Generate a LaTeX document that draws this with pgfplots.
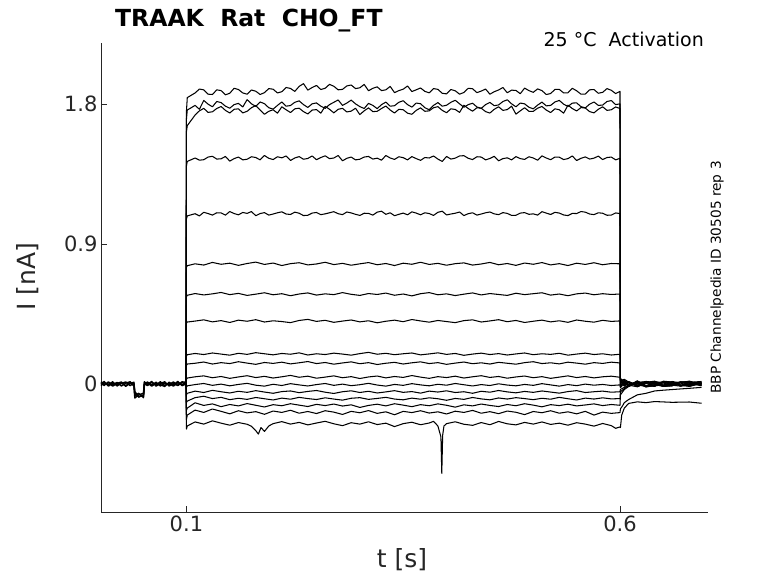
\documentclass[border=0pt]{standalone}
\usepackage{pgfplots}
\pgfplotsset{compat=1.18}
\usepackage{fontspec}
\setmainfont{DejaVu Sans}
\definecolor{txt}{HTML}{262626}
\begin{document}
\begin{tikzpicture}
\path[use as bounding box] (0pt,0pt) rectangle (778pt,583pt);
\begin{axis}[
  at={(101pt,70.5pt)}, anchor=south west,
  scale only axis, width=607pt, height=469.5pt,
  xmin=0.0015, xmax=0.7015, ymin=-0.826, ymax=2.191,
  axis x line=bottom, axis y line=left,
  axis line style={-, txt, line width=0.5pt},
  tick align=inside, major tick length=6pt,
  tick style={txt, line width=0.5pt},
  xtick={0.1,0.6}, ytick={0,0.9,1.8},
  xticklabels={0.1,0.6}, yticklabels={0,0.9,1.8},
  ticklabel style={font=\fontsize{21}{24}\selectfont, text=txt},
  clip=false,
  cycle list={{black, mark=none}},
  every axis plot/.append style={line width=1.05pt, line join=round},
]
% pre-step baseline (all sweeps overlap here)
\addplot+[line width=1.4pt] coordinates {(0.0015,0.008)(0.005,-0.01)(0.01,0.013)(0.015,-0.005)(0.02,0.01)(0.025,-0.013)(0.03,0.005)(0.035,0.014)(0.0395,-0.006)(0.0405,-0.06)(0.045,-0.085)(0.0505,-0.07)(0.0515,0.008)(0.055,-0.011)(0.06,0.01)(0.065,-0.006)(0.07,0.014)(0.075,-0.01)(0.08,0.005)(0.085,-0.014)(0.09,0.008)(0.095,-0.005)(0.0995,0.006)};
\addplot+[line width=1.4pt] coordinates {(0.0015,-0.011)(0.005,0.008)(0.01,-0.006)(0.015,0.014)(0.02,-0.013)(0.025,0.006)(0.03,-0.01)(0.035,0.003)(0.0395,0.011)(0.0405,-0.075)(0.045,-0.06)(0.0505,-0.088)(0.0515,-0.01)(0.055,0.013)(0.06,-0.008)(0.065,0.011)(0.07,-0.013)(0.075,0.006)(0.08,-0.005)(0.085,0.013)(0.09,-0.011)(0.095,0.01)(0.0995,-0.005)};
\addplot+[line width=1.4pt] coordinates {(0.0015,0.014)(0.005,-0.003)(0.01,0.008)(0.015,-0.014)(0.02,0.003)(0.025,0.013)(0.03,-0.016)(0.035,0.008)(0.0395,-0.013)(0.0405,-0.09)(0.045,-0.07)(0.0505,-0.06)(0.0515,0.014)(0.055,-0.003)(0.06,0.016)(0.065,-0.014)(0.07,0.003)(0.075,0.014)(0.08,-0.013)(0.085,0.002)(0.09,-0.008)(0.095,0.014)(0.0995,0.01)};
\addplot+[line width=1.4pt] coordinates {(0.0015,-0.003)(0.005,0.016)(0.01,-0.014)(0.015,0.006)(0.02,-0.006)(0.025,0.003)(0.03,0.013)(0.035,-0.011)(0.0395,0.005)(0.0405,-0.05)(0.045,-0.08)(0.0505,-0.075)(0.0515,-0.003)(0.055,0.008)(0.06,-0.014)(0.065,0.005)(0.07,-0.005)(0.075,-0.016)(0.08,0.011)(0.085,-0.006)(0.09,0.016)(0.095,-0.011)(0.0995,0.0)};
% A
\addplot coordinates {(0.0995,0.004)(0.1,1.75)(0.101,1.84)(0.11,1.87)(0.115,1.895)(0.12,1.89)(0.125,1.862)(0.13,1.86)(0.135,1.89)(0.14,1.885)(0.145,1.858)(0.15,1.868)(0.155,1.9)(0.16,1.892)(0.165,1.87)(0.17,1.862)(0.175,1.889)(0.18,1.881)(0.185,1.86)(0.19,1.872)(0.195,1.898)(0.2,1.894)(0.205,1.87)(0.21,1.878)(0.215,1.905)(0.22,1.899)(0.225,1.88)(0.23,1.912)(0.235,1.93)(0.24,1.888)(0.245,1.905)(0.25,1.918)(0.255,1.892)(0.26,1.9)(0.265,1.925)(0.27,1.913)(0.275,1.89)(0.28,1.893)(0.285,1.915)(0.29,1.921)(0.295,1.898)(0.3,1.903)(0.305,1.925)(0.31,1.884)(0.315,1.9)(0.32,1.909)(0.325,1.885)(0.33,1.89)(0.335,1.912)(0.34,1.872)(0.345,1.885)(0.35,1.894)(0.355,1.915)(0.36,1.879)(0.365,1.89)(0.37,1.902)(0.375,1.88)(0.38,1.871)(0.385,1.898)(0.39,1.893)(0.395,1.868)(0.4,1.864)(0.405,1.892)(0.41,1.884)(0.415,1.862)(0.42,1.873)(0.425,1.9)(0.43,1.897)(0.435,1.872)(0.44,1.882)(0.445,1.895)(0.45,1.862)(0.455,1.878)(0.46,1.889)(0.465,1.905)(0.47,1.871)(0.475,1.888)(0.48,1.886)(0.485,1.865)(0.49,1.901)(0.495,1.885)(0.5,1.874)(0.505,1.896)(0.51,1.885)(0.515,1.86)(0.52,1.866)(0.525,1.893)(0.53,1.893)(0.535,1.87)(0.54,1.871)(0.545,1.9)(0.55,1.884)(0.555,1.862)(0.56,1.863)(0.565,1.89)(0.57,1.892)(0.575,1.868)(0.58,1.874)(0.585,1.898)(0.59,1.887)(0.595,1.866)(0.6,1.88)(0.6005,0.035)(0.605,0.015)(0.61,-0.01)(0.62,0.02)(0.63,-0.012)(0.64,-0.015)(0.65,0.018)(0.66,0.012)(0.67,-0.01)(0.68,-0.008)(0.694,0.012)};
% B
\addplot coordinates {(0.0995,-0.003)(0.1,1.70)(0.101,1.76)(0.11,1.79)(0.115,1.765)(0.12,1.822)(0.125,1.798)(0.13,1.781)(0.135,1.815)(0.14,1.808)(0.145,1.785)(0.15,1.772)(0.155,1.795)(0.16,1.803)(0.165,1.78)(0.17,1.827)(0.175,1.8)(0.18,1.784)(0.185,1.812)(0.19,1.801)(0.195,1.775)(0.2,1.766)(0.205,1.79)(0.21,1.812)(0.215,1.785)(0.22,1.789)(0.225,1.81)(0.23,1.819)(0.235,1.795)(0.24,1.777)(0.245,1.8)(0.25,1.806)(0.255,1.785)(0.26,1.771)(0.265,1.795)(0.27,1.81)(0.275,1.825)(0.28,1.79)(0.285,1.805)(0.29,1.824)(0.295,1.8)(0.3,1.782)(0.305,1.77)(0.31,1.803)(0.315,1.79)(0.32,1.769)(0.325,1.795)(0.33,1.811)(0.335,1.785)(0.34,1.788)(0.345,1.81)(0.35,1.82)(0.355,1.795)(0.36,1.779)(0.365,1.805)(0.37,1.801)(0.375,1.775)(0.38,1.762)(0.385,1.79)(0.39,1.808)(0.395,1.785)(0.4,1.791)(0.405,1.81)(0.41,1.823)(0.415,1.8)(0.42,1.778)(0.425,1.795)(0.43,1.804)(0.435,1.78)(0.44,1.771)(0.445,1.795)(0.45,1.809)(0.455,1.788)(0.46,1.793)(0.465,1.815)(0.47,1.826)(0.475,1.8)(0.48,1.781)(0.485,1.805)(0.49,1.8)(0.495,1.778)(0.5,1.768)(0.505,1.792)(0.51,1.811)(0.515,1.787)(0.52,1.79)(0.525,1.812)(0.53,1.822)(0.535,1.798)(0.54,1.783)(0.545,1.805)(0.55,1.806)(0.555,1.782)(0.56,1.774)(0.565,1.798)(0.57,1.812)(0.575,1.79)(0.58,1.792)(0.585,1.815)(0.59,1.821)(0.595,1.795)(0.6,1.80)(0.6005,0.03)(0.605,-0.012)(0.61,0.016)(0.62,-0.008)(0.63,0.01)(0.64,0.018)(0.65,-0.012)(0.66,-0.01)(0.67,0.014)(0.68,0.012)(0.694,-0.004)};
% C
\addplot coordinates {(0.0995,0.006)(0.1,1.62)(0.101,1.66)(0.11,1.728)(0.115,1.755)(0.12,1.771)(0.125,1.745)(0.13,1.749)(0.135,1.77)(0.14,1.783)(0.145,1.758)(0.15,1.741)(0.155,1.765)(0.16,1.768)(0.165,1.742)(0.17,1.752)(0.175,1.775)(0.18,1.789)(0.185,1.76)(0.19,1.733)(0.195,1.752)(0.2,1.762)(0.205,1.74)(0.21,1.781)(0.215,1.762)(0.22,1.744)(0.225,1.768)(0.23,1.772)(0.235,1.75)(0.24,1.735)(0.245,1.76)(0.25,1.763)(0.255,1.74)(0.26,1.784)(0.265,1.765)(0.27,1.742)(0.275,1.765)(0.28,1.771)(0.285,1.748)(0.29,1.753)(0.295,1.772)(0.3,1.731)(0.305,1.755)(0.31,1.774)(0.315,1.75)(0.32,1.752)(0.325,1.77)(0.33,1.786)(0.335,1.76)(0.34,1.741)(0.345,1.765)(0.35,1.762)(0.355,1.74)(0.36,1.733)(0.365,1.758)(0.37,1.774)(0.375,1.752)(0.38,1.755)(0.385,1.775)(0.39,1.782)(0.395,1.758)(0.4,1.743)(0.405,1.768)(0.41,1.764)(0.415,1.745)(0.42,1.791)(0.425,1.77)(0.43,1.753)(0.435,1.775)(0.44,1.772)(0.445,1.75)(0.45,1.741)(0.455,1.765)(0.46,1.781)(0.465,1.758)(0.47,1.763)(0.475,1.785)(0.48,1.734)(0.485,1.755)(0.49,1.775)(0.495,1.752)(0.5,1.752)(0.505,1.772)(0.51,1.783)(0.515,1.76)(0.52,1.744)(0.525,1.768)(0.53,1.762)(0.535,1.74)(0.54,1.791)(0.545,1.77)(0.55,1.754)(0.555,1.776)(0.56,1.773)(0.565,1.75)(0.57,1.742)(0.575,1.765)(0.58,1.781)(0.585,1.758)(0.59,1.762)(0.595,1.78)(0.6,1.77)(0.6005,-0.02)(0.605,0.024)(0.61,-0.006)(0.62,0.012)(0.63,-0.016)(0.64,0.006)(0.65,0.014)(0.66,-0.008)(0.67,-0.014)(0.68,0.01)(0.694,0.016)};
% D
\addplot coordinates {(0.0995,-0.005)(0.1,1.40)(0.101,1.43)(0.11,1.452)(0.115,1.438)(0.12,1.441)(0.125,1.458)(0.13,1.463)(0.135,1.445)(0.14,1.447)(0.145,1.462)(0.15,1.432)(0.155,1.448)(0.16,1.458)(0.165,1.44)(0.17,1.444)(0.175,1.46)(0.18,1.455)(0.185,1.44)(0.19,1.468)(0.195,1.45)(0.2,1.442)(0.205,1.46)(0.21,1.453)(0.215,1.465)(0.22,1.436)(0.225,1.452)(0.23,1.461)(0.235,1.444)(0.24,1.449)(0.245,1.465)(0.25,1.441)(0.255,1.455)(0.26,1.466)(0.265,1.448)(0.27,1.452)(0.275,1.468)(0.28,1.434)(0.285,1.45)(0.29,1.458)(0.295,1.44)(0.3,1.444)(0.305,1.458)(0.31,1.462)(0.315,1.445)(0.32,1.451)(0.325,1.438)(0.33,1.468)(0.335,1.452)(0.34,1.443)(0.345,1.46)(0.35,1.454)(0.355,1.44)(0.36,1.461)(0.365,1.448)(0.37,1.437)(0.375,1.455)(0.38,1.452)(0.385,1.465)(0.39,1.445)(0.395,1.43)(0.4,1.462)(0.405,1.445)(0.41,1.451)(0.415,1.465)(0.42,1.467)(0.425,1.45)(0.43,1.442)(0.435,1.46)(0.44,1.458)(0.445,1.44)(0.45,1.449)(0.455,1.463)(0.46,1.434)(0.465,1.448)(0.47,1.453)(0.475,1.44)(0.48,1.461)(0.485,1.448)(0.49,1.443)(0.495,1.46)(0.5,1.452)(0.505,1.438)(0.51,1.466)(0.515,1.452)(0.52,1.441)(0.525,1.458)(0.53,1.457)(0.535,1.442)(0.54,1.448)(0.545,1.465)(0.55,1.436)(0.555,1.45)(0.56,1.459)(0.565,1.445)(0.57,1.451)(0.575,1.464)(0.58,1.442)(0.585,1.455)(0.59,1.458)(0.595,1.44)(0.6,1.45)(0.6005,0.024)(0.605,-0.008)(0.61,0.014)(0.62,-0.018)(0.63,0.01)(0.64,0.006)(0.65,-0.014)(0.66,-0.012)(0.67,0.01)(0.68,0.018)(0.694,-0.002)};
% E
\addplot coordinates {(0.0995,0.003)(0.1,1.06)(0.101,1.08)(0.11,1.094)(0.115,1.08)(0.12,1.103)(0.125,1.095)(0.13,1.085)(0.135,1.1)(0.14,1.099)(0.145,1.085)(0.15,1.108)(0.155,1.095)(0.16,1.087)(0.165,1.102)(0.17,1.096)(0.175,1.108)(0.18,1.081)(0.185,1.095)(0.19,1.101)(0.195,1.085)(0.2,1.092)(0.205,1.1)(0.21,1.106)(0.215,1.092)(0.22,1.089)(0.225,1.104)(0.23,1.097)(0.235,1.082)(0.24,1.084)(0.245,1.098)(0.25,1.102)(0.255,1.088)(0.26,1.093)(0.265,1.1)(0.27,1.107)(0.275,1.094)(0.28,1.088)(0.285,1.105)(0.29,1.099)(0.295,1.09)(0.3,1.083)(0.305,1.097)(0.31,1.096)(0.315,1.085)(0.32,1.104)(0.325,1.11)(0.33,1.09)(0.335,1.1)(0.34,1.081)(0.345,1.09)(0.35,1.098)(0.355,1.087)(0.36,1.106)(0.365,1.098)(0.37,1.087)(0.375,1.1)(0.38,1.095)(0.385,1.083)(0.39,1.103)(0.395,1.11)(0.4,1.086)(0.405,1.092)(0.41,1.097)(0.415,1.105)(0.42,1.082)(0.425,1.094)(0.43,1.1)(0.435,1.085)(0.44,1.092)(0.445,1.1)(0.45,1.105)(0.455,1.093)(0.46,1.088)(0.465,1.101)(0.47,1.096)(0.475,1.083)(0.48,1.084)(0.485,1.098)(0.49,1.101)(0.495,1.09)(0.5,1.093)(0.505,1.085)(0.51,1.107)(0.515,1.098)(0.52,1.089)(0.525,1.103)(0.53,1.098)(0.535,1.086)(0.54,1.082)(0.545,1.096)(0.55,1.095)(0.555,1.108)(0.56,1.104)(0.565,1.092)(0.57,1.088)(0.575,1.1)(0.58,1.097)(0.585,1.084)(0.59,1.085)(0.595,1.099)(0.6,1.095)(0.6005,-0.016)(0.605,0.02)(0.61,-0.012)(0.62,0.008)(0.63,0.016)(0.64,-0.004)(0.65,-0.016)(0.66,0.016)(0.67,0.006)(0.68,-0.014)(0.694,0.006)};
% F
\addplot coordinates {(0.0995,0.004)(0.1,0.75)(0.101,0.76)(0.11,0.772)(0.12,0.764)(0.13,0.781)(0.14,0.769)(0.15,0.776)(0.16,0.762)(0.17,0.774)(0.18,0.783)(0.19,0.768)(0.2,0.777)(0.21,0.761)(0.22,0.773)(0.23,0.779)(0.24,0.765)(0.25,0.771)(0.26,0.782)(0.27,0.767)(0.28,0.775)(0.29,0.763)(0.3,0.772)(0.31,0.78)(0.32,0.766)(0.33,0.774)(0.34,0.761)(0.35,0.776)(0.36,0.769)(0.37,0.782)(0.38,0.768)(0.39,0.775)(0.4,0.763)(0.41,0.773)(0.42,0.778)(0.43,0.764)(0.44,0.771)(0.45,0.781)(0.46,0.766)(0.47,0.774)(0.48,0.762)(0.49,0.777)(0.5,0.769)(0.51,0.78)(0.52,0.765)(0.53,0.773)(0.54,0.761)(0.55,0.776)(0.56,0.768)(0.57,0.779)(0.58,0.766)(0.59,0.774)(0.6,0.772)(0.6005,0.02)(0.605,-0.014)(0.61,0.01)(0.62,-0.006)(0.63,-0.016)(0.64,0.016)(0.65,0.006)(0.66,-0.008)(0.67,0.012)(0.68,0.004)(0.694,-0.012)};
% G
\addplot coordinates {(0.0995,-0.006)(0.1,0.56)(0.101,0.57)(0.11,0.581)(0.12,0.572)(0.13,0.579)(0.14,0.588)(0.15,0.574)(0.16,0.582)(0.17,0.569)(0.18,0.577)(0.19,0.586)(0.2,0.573)(0.21,0.58)(0.22,0.567)(0.23,0.578)(0.24,0.585)(0.25,0.571)(0.26,0.579)(0.27,0.574)(0.28,0.587)(0.29,0.576)(0.3,0.569)(0.31,0.581)(0.32,0.575)(0.33,0.584)(0.34,0.57)(0.35,0.578)(0.36,0.566)(0.37,0.58)(0.38,0.587)(0.39,0.573)(0.4,0.579)(0.41,0.568)(0.42,0.577)(0.43,0.585)(0.44,0.572)(0.45,0.581)(0.46,0.575)(0.47,0.569)(0.48,0.583)(0.49,0.574)(0.5,0.58)(0.51,0.586)(0.52,0.571)(0.53,0.578)(0.54,0.567)(0.55,0.579)(0.56,0.584)(0.57,0.573)(0.58,0.58)(0.59,0.575)(0.6,0.578)(0.6005,-0.01)(0.605,0.018)(0.61,-0.004)(0.62,0.012)(0.63,0.004)(0.64,-0.014)(0.65,0.01)(0.66,0.006)(0.67,-0.012)(0.68,0.014)(0.694,-0.008)};
% H
\addplot coordinates {(0.0995,0.002)(0.1,0.39)(0.101,0.398)(0.11,0.404)(0.12,0.412)(0.13,0.399)(0.14,0.407)(0.15,0.395)(0.16,0.41)(0.17,0.403)(0.18,0.413)(0.19,0.398)(0.2,0.406)(0.21,0.401)(0.22,0.394)(0.23,0.408)(0.24,0.415)(0.25,0.402)(0.26,0.409)(0.27,0.396)(0.28,0.404)(0.29,0.411)(0.3,0.399)(0.31,0.406)(0.32,0.393)(0.33,0.403)(0.34,0.41)(0.35,0.4)(0.36,0.414)(0.37,0.405)(0.38,0.397)(0.39,0.408)(0.4,0.401)(0.41,0.394)(0.42,0.407)(0.43,0.412)(0.44,0.398)(0.45,0.405)(0.46,0.413)(0.47,0.4)(0.48,0.408)(0.49,0.395)(0.5,0.403)(0.51,0.41)(0.52,0.399)(0.53,0.406)(0.54,0.396)(0.55,0.411)(0.56,0.403)(0.57,0.397)(0.58,0.409)(0.59,0.402)(0.6,0.405)(0.6005,0.028)(0.605,0.008)(0.61,-0.012)(0.62,0.018)(0.63,-0.01)(0.64,-0.006)(0.65,0.012)(0.66,0.01)(0.67,-0.008)(0.68,-0.016)(0.694,0.004)};
% I
\addplot coordinates {(0.0995,-0.004)(0.1,0.18)(0.101,0.188)(0.11,0.196)(0.12,0.189)(0.13,0.199)(0.14,0.192)(0.15,0.185)(0.16,0.197)(0.17,0.19)(0.18,0.201)(0.19,0.194)(0.2,0.187)(0.21,0.196)(0.22,0.191)(0.23,0.2)(0.24,0.186)(0.25,0.194)(0.26,0.189)(0.27,0.198)(0.28,0.192)(0.29,0.185)(0.3,0.195)(0.31,0.203)(0.32,0.191)(0.33,0.197)(0.34,0.188)(0.35,0.194)(0.36,0.199)(0.37,0.187)(0.38,0.193)(0.39,0.2)(0.4,0.19)(0.41,0.196)(0.42,0.184)(0.43,0.192)(0.44,0.198)(0.45,0.189)(0.46,0.195)(0.47,0.186)(0.48,0.193)(0.49,0.199)(0.5,0.188)(0.51,0.194)(0.52,0.19)(0.53,0.197)(0.54,0.185)(0.55,0.192)(0.56,0.198)(0.57,0.189)(0.58,0.194)(0.59,0.186)(0.6,0.191)(0.6005,0.02)(0.605,0.03)(0.61,0.012)(0.62,-0.008)(0.63,0.008)(0.64,0.014)(0.65,-0.01)(0.66,-0.01)(0.67,0.012)(0.68,0.008)(0.694,0.012)};
% J
\addplot coordinates {(0.0995,0.005)(0.1,0.12)(0.101,0.128)(0.11,0.133)(0.12,0.141)(0.13,0.128)(0.14,0.137)(0.15,0.131)(0.16,0.143)(0.17,0.134)(0.18,0.126)(0.19,0.138)(0.2,0.132)(0.21,0.14)(0.22,0.129)(0.23,0.136)(0.24,0.144)(0.25,0.131)(0.26,0.138)(0.27,0.127)(0.28,0.135)(0.29,0.142)(0.3,0.13)(0.31,0.137)(0.32,0.125)(0.33,0.133)(0.34,0.139)(0.35,0.128)(0.36,0.136)(0.37,0.142)(0.38,0.131)(0.39,0.137)(0.4,0.126)(0.41,0.134)(0.42,0.141)(0.43,0.13)(0.44,0.136)(0.45,0.128)(0.46,0.139)(0.47,0.133)(0.48,0.127)(0.49,0.137)(0.5,0.143)(0.51,0.131)(0.52,0.136)(0.53,0.129)(0.54,0.14)(0.55,0.134)(0.56,0.127)(0.57,0.137)(0.58,0.132)(0.59,0.14)(0.6,0.135)(0.6005,-0.012)(0.605,0.022)(0.61,0.006)(0.62,-0.012)(0.63,0.016)(0.64,0.01)(0.65,-0.008)(0.66,-0.004)(0.67,0.01)(0.68,0.016)(0.694,-0.01)};
% K
\addplot coordinates {(0.0995,-0.002)(0.1,0.03)(0.101,0.038)(0.11,0.046)(0.12,0.052)(0.13,0.04)(0.14,0.048)(0.15,0.036)(0.16,0.045)(0.17,0.053)(0.18,0.041)(0.19,0.049)(0.2,0.038)(0.21,0.046)(0.22,0.055)(0.23,0.043)(0.24,0.05)(0.25,0.037)(0.26,0.044)(0.27,0.052)(0.28,0.04)(0.29,0.047)(0.3,0.035)(0.31,0.045)(0.32,0.051)(0.33,0.039)(0.34,0.048)(0.35,0.042)(0.36,0.054)(0.37,0.044)(0.38,0.036)(0.39,0.047)(0.4,0.041)(0.41,0.05)(0.42,0.038)(0.43,0.046)(0.44,0.053)(0.45,0.042)(0.46,0.048)(0.47,0.037)(0.48,0.045)(0.49,0.051)(0.5,0.04)(0.51,0.047)(0.52,0.036)(0.53,0.044)(0.54,0.052)(0.55,0.041)(0.56,0.048)(0.57,0.039)(0.58,0.046)(0.59,0.05)(0.6,0.043)(0.6005,0.03)(0.605,0.012)(0.61,-0.01)(0.62,0.016)(0.63,-0.014)(0.64,-0.008)(0.65,0.014)(0.66,0.012)(0.67,-0.006)(0.68,-0.002)(0.694,0.008)};
% L
\addplot coordinates {(0.0995,0.006)(0.1,-0.02)(0.101,-0.012)(0.11,-0.004)(0.12,0.003)(0.13,-0.009)(0.14,-0.001)(0.15,-0.012)(0.16,-0.003)(0.17,0.004)(0.18,-0.008)(0.19,-0.014)(0.2,-0.002)(0.21,-0.01)(0.22,0.002)(0.23,-0.006)(0.24,-0.013)(0.25,-0.004)(0.26,0.003)(0.27,-0.009)(0.28,-0.001)(0.29,-0.011)(0.3,-0.005)(0.31,0.004)(0.32,-0.007)(0.33,-0.014)(0.34,-0.003)(0.35,-0.009)(0.36,0.002)(0.37,-0.006)(0.38,-0.012)(0.39,-0.002)(0.4,-0.008)(0.41,0.003)(0.42,-0.005)(0.43,-0.013)(0.44,-0.004)(0.45,-0.01)(0.46,0.001)(0.47,-0.007)(0.48,-0.012)(0.49,-0.003)(0.5,-0.009)(0.51,0.002)(0.52,-0.006)(0.53,-0.014)(0.54,-0.004)(0.55,-0.011)(0.56,-0.001)(0.57,-0.008)(0.58,-0.003)(0.59,-0.01)(0.6,-0.006)(0.6005,-0.024)(0.605,0.006)(0.61,-0.016)(0.62,0.01)(0.63,0.012)(0.64,-0.012)(0.65,-0.006)(0.66,0.004)(0.67,0.014)(0.68,-0.008)(0.694,0.002)};
% M
\addplot coordinates {(0.0995,-0.004)(0.1,-0.07)(0.101,-0.06)(0.11,-0.046)(0.12,-0.055)(0.13,-0.041)(0.14,-0.05)(0.15,-0.058)(0.16,-0.047)(0.17,-0.054)(0.18,-0.043)(0.19,-0.052)(0.2,-0.06)(0.21,-0.049)(0.22,-0.045)(0.23,-0.056)(0.24,-0.048)(0.25,-0.042)(0.26,-0.053)(0.27,-0.061)(0.28,-0.05)(0.29,-0.044)(0.3,-0.055)(0.31,-0.047)(0.32,-0.058)(0.33,-0.051)(0.34,-0.043)(0.35,-0.054)(0.36,-0.049)(0.37,-0.059)(0.38,-0.046)(0.39,-0.052)(0.4,-0.044)(0.41,-0.055)(0.42,-0.05)(0.43,-0.06)(0.44,-0.047)(0.45,-0.053)(0.46,-0.042)(0.47,-0.051)(0.48,-0.057)(0.49,-0.048)(0.5,-0.054)(0.51,-0.045)(0.52,-0.052)(0.53,-0.059)(0.54,-0.049)(0.55,-0.043)(0.56,-0.055)(0.57,-0.05)(0.58,-0.046)(0.59,-0.053)(0.6,-0.05)(0.6005,-0.035)(0.605,-0.022)(0.61,-0.008)(0.62,-0.018)(0.63,0.006)(0.64,0.004)(0.65,-0.016)(0.66,-0.012)(0.67,0.008)(0.68,0.006)(0.694,-0.006)};
% N
\addplot coordinates {(0.0995,0.003)(0.1,-0.12)(0.101,-0.11)(0.11,-0.088)(0.12,-0.079)(0.13,-0.094)(0.14,-0.086)(0.15,-0.101)(0.16,-0.092)(0.17,-0.099)(0.18,-0.087)(0.19,-0.095)(0.2,-0.103)(0.21,-0.091)(0.22,-0.098)(0.23,-0.086)(0.24,-0.094)(0.25,-0.1)(0.26,-0.089)(0.27,-0.097)(0.28,-0.104)(0.29,-0.092)(0.3,-0.088)(0.31,-0.099)(0.32,-0.093)(0.33,-0.086)(0.34,-0.097)(0.35,-0.102)(0.36,-0.091)(0.37,-0.098)(0.38,-0.089)(0.39,-0.095)(0.4,-0.105)(0.41,-0.093)(0.42,-0.099)(0.43,-0.087)(0.44,-0.096)(0.45,-0.102)(0.46,-0.09)(0.47,-0.097)(0.48,-0.088)(0.49,-0.094)(0.5,-0.101)(0.51,-0.092)(0.52,-0.098)(0.53,-0.086)(0.54,-0.095)(0.55,-0.103)(0.56,-0.091)(0.57,-0.097)(0.58,-0.089)(0.59,-0.096)(0.6,-0.094)(0.6005,-0.05)(0.605,-0.03)(0.61,-0.012)(0.62,0.004)(0.63,-0.014)(0.64,-0.014)(0.65,0.01)(0.66,0.006)(0.67,-0.01)(0.68,-0.01)(0.694,0.004)};
% O
\addplot coordinates {(0.0995,-0.005)(0.1,-0.17)(0.101,-0.155)(0.11,-0.121)(0.12,-0.138)(0.13,-0.128)(0.14,-0.146)(0.15,-0.132)(0.16,-0.141)(0.17,-0.126)(0.18,-0.137)(0.19,-0.148)(0.2,-0.133)(0.21,-0.14)(0.22,-0.127)(0.23,-0.136)(0.24,-0.145)(0.25,-0.131)(0.26,-0.139)(0.27,-0.129)(0.28,-0.142)(0.29,-0.134)(0.3,-0.151)(0.31,-0.138)(0.32,-0.13)(0.33,-0.141)(0.34,-0.127)(0.35,-0.136)(0.36,-0.146)(0.37,-0.133)(0.38,-0.14)(0.39,-0.128)(0.4,-0.137)(0.41,-0.149)(0.42,-0.134)(0.43,-0.141)(0.44,-0.129)(0.45,-0.138)(0.46,-0.145)(0.47,-0.132)(0.48,-0.14)(0.49,-0.127)(0.5,-0.136)(0.51,-0.147)(0.52,-0.133)(0.53,-0.139)(0.54,-0.13)(0.55,-0.141)(0.56,-0.135)(0.57,-0.128)(0.58,-0.139)(0.59,-0.132)(0.6,-0.137)(0.6005,-0.07)(0.605,-0.036)(0.61,-0.016)(0.62,0.008)(0.63,-0.02)(0.64,-0.008)(0.65,0.008)(0.66,0.012)(0.67,-0.014)(0.68,-0.004)(0.694,0.006)};
% P
\addplot coordinates {(0.0995,0.002)(0.1,-0.23)(0.101,-0.2)(0.11,-0.168)(0.12,-0.183)(0.13,-0.161)(0.14,-0.176)(0.15,-0.192)(0.16,-0.172)(0.17,-0.186)(0.18,-0.178)(0.19,-0.195)(0.2,-0.174)(0.21,-0.183)(0.22,-0.169)(0.23,-0.188)(0.24,-0.177)(0.25,-0.19)(0.26,-0.172)(0.27,-0.181)(0.28,-0.196)(0.29,-0.176)(0.3,-0.185)(0.31,-0.171)(0.32,-0.189)(0.33,-0.179)(0.34,-0.198)(0.35,-0.176)(0.36,-0.184)(0.37,-0.172)(0.38,-0.187)(0.39,-0.179)(0.4,-0.193)(0.41,-0.175)(0.42,-0.183)(0.43,-0.17)(0.44,-0.188)(0.45,-0.178)(0.46,-0.191)(0.47,-0.174)(0.48,-0.182)(0.49,-0.197)(0.5,-0.177)(0.51,-0.185)(0.52,-0.172)(0.53,-0.188)(0.54,-0.179)(0.55,-0.192)(0.56,-0.176)(0.57,-0.2)(0.58,-0.181)(0.59,-0.189)(0.6,-0.184)(0.6005,-0.16)(0.603,-0.14)(0.605,-0.12)(0.61,-0.1)(0.615,-0.085)(0.62,-0.07)(0.63,-0.06)(0.64,-0.045)(0.65,-0.04)(0.66,-0.036)(0.68,-0.028)(0.694,-0.022)};
% Q
\addplot coordinates {(0.0995,-0.003)(0.1,-0.29)(0.101,-0.27)(0.11,-0.244)(0.12,-0.258)(0.13,-0.237)(0.14,-0.252)(0.15,-0.265)(0.16,-0.248)(0.17,-0.259)(0.175,-0.272)(0.18,-0.3)(0.183,-0.322)(0.186,-0.28)(0.19,-0.305)(0.195,-0.27)(0.2,-0.255)(0.21,-0.242)(0.22,-0.258)(0.23,-0.247)(0.24,-0.263)(0.25,-0.251)(0.26,-0.24)(0.27,-0.256)(0.28,-0.268)(0.29,-0.249)(0.3,-0.258)(0.31,-0.243)(0.32,-0.261)(0.33,-0.252)(0.34,-0.274)(0.35,-0.255)(0.36,-0.246)(0.37,-0.262)(0.38,-0.251)(0.385,-0.24)(0.39,-0.27)(0.392,-0.31)(0.3935,-0.34)(0.3945,-0.575)(0.3955,-0.33)(0.397,-0.27)(0.4,-0.255)(0.41,-0.243)(0.42,-0.259)(0.43,-0.266)(0.44,-0.248)(0.45,-0.262)(0.46,-0.241)(0.47,-0.256)(0.48,-0.263)(0.49,-0.247)(0.5,-0.258)(0.51,-0.244)(0.52,-0.26)(0.53,-0.252)(0.54,-0.265)(0.55,-0.249)(0.56,-0.258)(0.57,-0.271)(0.58,-0.254)(0.59,-0.268)(0.595,-0.285)(0.6,-0.276)(0.6005,-0.28)(0.602,-0.2)(0.605,-0.155)(0.61,-0.125)(0.62,-0.115)(0.63,-0.12)(0.64,-0.113)(0.66,-0.118)(0.68,-0.116)(0.694,-0.124)};
\end{axis}
% texts placed in picture coordinates (1pt = 1 reference pixel, y from bottom)
\node[anchor=base west, inner sep=0pt, text=black, font=\fontsize{23.5}{26}\selectfont\bfseries] at (115pt,556pt) {TRAAK\ \ Rat\ \ CHO\_FT};
\node[anchor=base east, inner sep=0pt, text=black, font=\fontsize{19}{22}\selectfont] at (704pt,536pt) {25 °C\ \ Activation};
\node[rotate=90, inner sep=0pt, text=black, font=\fontsize{13.7}{16}\selectfont] at (717pt,305.5pt) {BBP Channelpedia ID 30505 rep 3};
\node[rotate=90, inner sep=0pt, text=txt, font=\fontsize{25}{28}\selectfont] at (28pt,306pt) {I [nA]};
\node[inner sep=0pt, text=txt, font=\fontsize{25}{28}\selectfont] at (402pt,23pt) {t [s]};
\end{tikzpicture}
\end{document}
